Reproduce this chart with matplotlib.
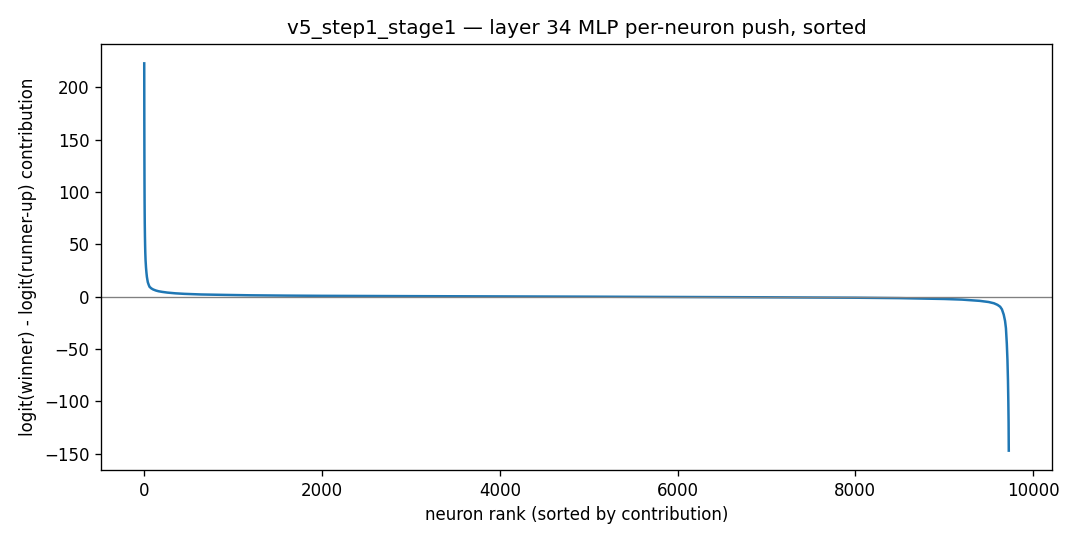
import matplotlib
matplotlib.use("Agg")
import matplotlib.pyplot as plt

title = "v5_step1_stage1 — layer 34 MLP per-neuron push, sorted"
xlabel = "neuron rank (sorted by contribution)"
ylabel = "logit(winner) - logit(runner-up) contribution"

rank = [0, 1, 2, 3, 4, 5, 6, 8, 10, 12, 15, 20, 25, 30, 40, 50, 60, 80, 100,
        130, 160, 200, 260, 350, 450, 640, 900, 1200, 1600, 2000, 3000, 4000,
        5000, 6000, 7000, 8000, 8500, 9000, 9200, 9400, 9500, 9560, 9600, 9630,
        9650, 9670, 9685, 9695, 9705, 9712, 9718, 9722, 9725, 9727]
contribution = [223, 170, 135, 110, 92, 80, 70, 58, 49, 42, 35, 28, 23, 19, 14,
                11.5, 9.5, 8, 7, 6, 5.3, 4.7, 4, 3.3, 2.8, 2.2, 1.8, 1.4, 1.1,
                0.9, 0.6, 0.35, 0.1, -0.2, -0.5, -0.9, -1.3, -2.1, -2.7, -3.9,
                -5, -6.2, -7.7, -9.5, -12, -17, -23, -30, -45, -60, -80, -100,
                -120, -147]

fig = plt.figure(figsize=(9, 4.5), dpi=120)
ax = fig.add_axes([101/1080, 1 - 470/540, (1052-101)/1080, (470-44)/540])
ax.plot(rank, contribution, color="#1f77b4", lw=1.5)
ax.axhline(0, color="gray", lw=0.8)
ax.set_title(title)
ax.set_xlabel(xlabel)
ax.set_ylabel(ylabel)
fig.savefig("out.png", dpi=120)
